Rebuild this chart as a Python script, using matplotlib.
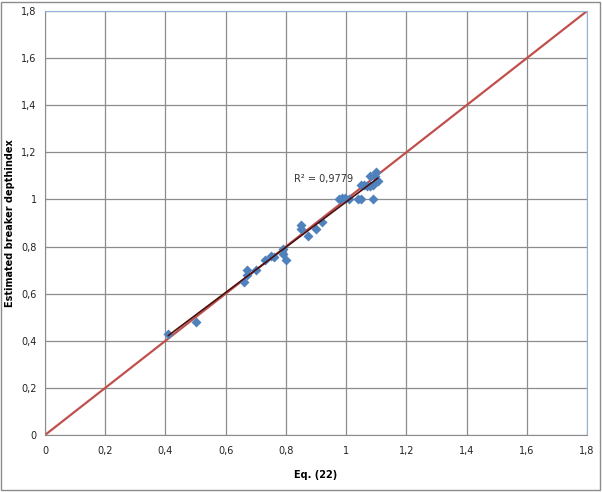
import numpy as np
import matplotlib
matplotlib.use('Agg')
import matplotlib.pyplot as plt
from matplotlib.ticker import FuncFormatter
from matplotlib.patches import Rectangle

plt.rcParams['font.family'] = ['Liberation Sans Narrow', 'DejaVu Sans']

# data
eq22 = [0.41, 0.50, 0.66, 0.67, 0.67, 0.70, 0.73, 0.75, 0.76, 0.79, 0.79, 0.80,
        0.85, 0.85, 0.875, 0.90, 0.92, 0.975, 0.985, 0.995, 1.01, 1.04, 1.05,
        1.09, 1.05, 1.06, 1.07, 1.08, 1.09, 1.08, 1.095, 1.10, 1.105]
estimated = [0.43, 0.48, 0.65, 0.70, 0.68, 0.70, 0.745, 0.76, 0.755, 0.79, 0.77, 0.745,
             0.89, 0.875, 0.845, 0.875, 0.905, 1.0, 1.005, 1.005, 1.0, 1.0, 1.0,
             1.0, 1.06, 1.06, 1.055, 1.055, 1.06, 1.10, 1.10, 1.115, 1.08]
one_to_one = [0, 1.8]
r2_label = 'R² = 0,9779'

fig = plt.figure(figsize=(6.02, 4.92), dpi=100)
ax = fig.add_axes([0.0748, 0.1159, 0.9003, 0.8617])

ax.plot(one_to_one, one_to_one, color='#c0504d', linewidth=1.6, zorder=2)

x = np.array(eq22)
y = np.array(estimated)
ax.scatter(x, y, marker='D', s=26, color='#4f81bd', zorder=3, linewidths=0)

k, b = np.polyfit(x, y, 1)
xt = np.array([x.min(), x.max()])
ax.plot(xt, k * xt + b, color='#4a1010', linewidth=1.2, zorder=4)
ax.text(0.925, 1.085, r2_label, fontsize=7, ha='center', va='center', color='#333333')

ax.set_xlim(0, 1.8)
ax.set_ylim(0, 1.8)
ticks = np.arange(0, 1.81, 0.2)
ax.set_xticks(ticks)
ax.set_yticks(ticks)
fmt = FuncFormatter(lambda v, p: ('%g' % round(v, 1)).replace('.', ','))
ax.xaxis.set_major_formatter(fmt)
ax.yaxis.set_major_formatter(fmt)
ax.tick_params(length=0, labelsize=7, colors='#222222')
ax.tick_params(axis='x', pad=8)
ax.tick_params(axis='y', pad=6)
ax.grid(True, color='#8c8c8c', linewidth=0.9)
ax.set_axisbelow(True)
for s in ['left', 'bottom']:
    ax.spines[s].set_color('#8c8c8c')
for s in ['top', 'right']:
    ax.spines[s].set_color('#95b3d7')

ax.set_xlabel('Eq. (22)', fontsize=7, fontweight='bold', labelpad=10)
ax.set_ylabel('Estimated breaker depthindex', fontsize=7, fontweight='bold')
ax.yaxis.set_label_coords(-0.055, 0.5)

fig.patches.append(Rectangle((0.002, 0.004), 0.994, 0.992, transform=fig.transFigure,
                             fill=False, edgecolor='#8c8c8c', linewidth=1))

fig.savefig('out.png', dpi=100)
